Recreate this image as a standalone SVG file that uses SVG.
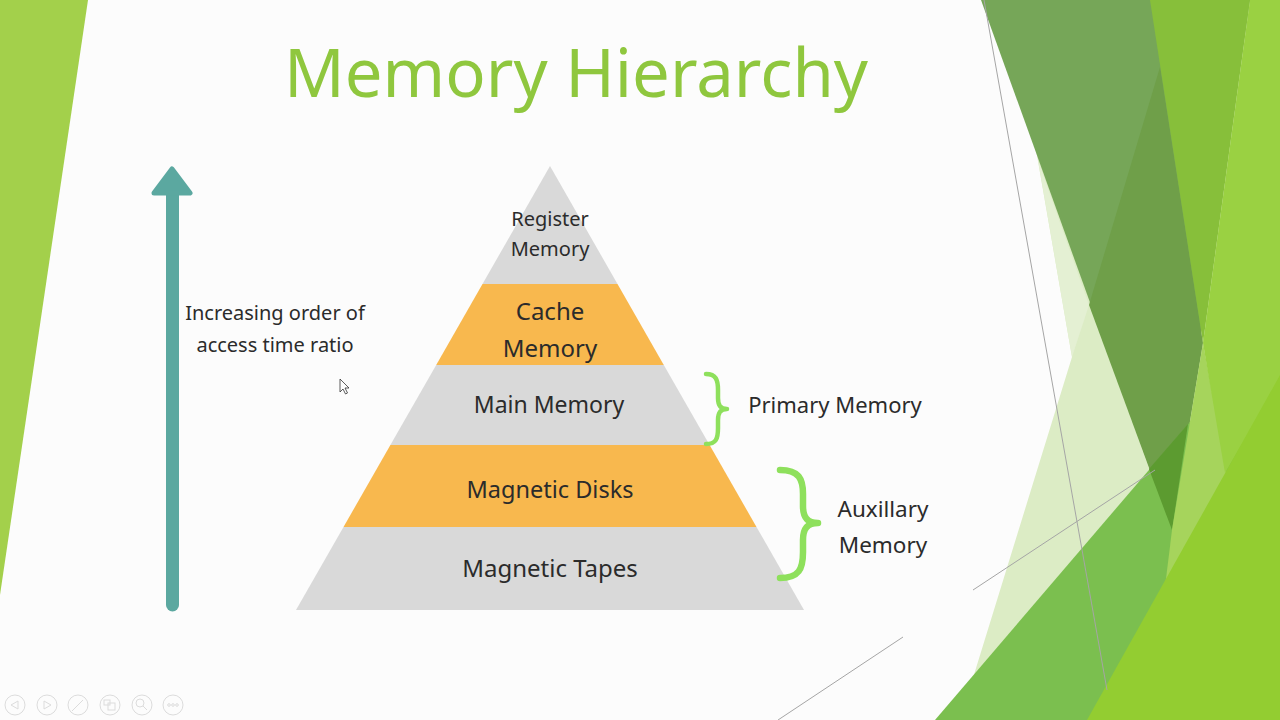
<svg xmlns="http://www.w3.org/2000/svg" width="1280" height="720" viewBox="0 0 1280 720">
  <style>
    .lbl { font-family: "Noto Sans", "DejaVu Sans", sans-serif; fill: #2b2b2b; text-anchor: middle; }
    .gray { fill: #d9d9d9; }
    .orange { fill: #f8b84e; }
    .brace { fill: none; stroke: #8ee05c; stroke-linecap: round; stroke-linejoin: round; }
    .thin { stroke: #a5a5a5; stroke-width: 1; fill: none; }
    .ctl { fill: none; stroke: #dcdcdc; stroke-width: 1; }
  </style>
  <rect width="1280" height="720" fill="#fcfcfc"/>

  <!-- background decoration -->
  <g id="decor-left">
    <polygon points="0,0 88,0 0,595" fill="#a3d04b"/>
  </g>
  <g id="decor-right">
    <polygon points="1150,0 1280,0 1280,720 1087,720" fill="#97ce3b"/>
    <polygon points="1010,0 1072,357 960,720 1280,720 1280,0" fill="#dcecc5"/>
    <polygon points="1038,160 1089,305 1072,357" fill="#e4f0d3"/>
    <polygon points="981,0 1250,0 1172,530" fill="#76a658"/>
    <polygon points="1160,67 1089,305 1172,530 1203,343" fill="#6f9f49"/>
    <polygon points="1150,0 1250,0 1203,343" fill="#87bf3a"/>
    <polygon points="935,720 1190,422 1280,317 1280,720" fill="#7bbf4f"/>
    <polygon points="1149,469 1188,424 1172,530" fill="#5c9b30"/>
    <polygon points="1203,343 1228,480 1165,587 1172,530" fill="#a6d45c"/>
    <polygon points="1250,0 1280,0 1280,380 1225,473 1203,343" fill="#9ad142"/>
    <polygon points="1087,720 1280,375 1280,720" fill="#93cd31"/>
    <line class="thin" x1="984" y1="0" x2="1107" y2="690"/>
    <line class="thin" x1="973" y1="590" x2="1155" y2="470"/>
    <line class="thin" x1="778" y1="720" x2="903" y2="637"/>
  </g>

  <g id="title">
    <text x="576" y="97" font-family="'Noto Sans', 'DejaVu Sans', sans-serif" font-size="68" fill="#8fc73e" text-anchor="middle" textLength="584" lengthAdjust="spacingAndGlyphs">Memory Hierarchy</text>
  </g>

  <g id="access-label">
    <text class="lbl" x="275" y="320" font-size="20">Increasing order of</text>
    <text class="lbl" x="275" y="352" font-size="20">access time ratio</text>
  </g>

  <g id="register-memory">
    <polygon class="gray" points="550,166 617.5,284 482.5,284"/>
    <text class="lbl" x="550" y="226" font-size="20">Register</text>
    <text class="lbl" x="550" y="256" font-size="20">Memory</text>
  </g>
  <g id="cache-memory">
    <polygon class="orange" points="482.5,284 617.5,284 663.8,365 436.2,365"/>
    <text class="lbl" x="550" y="320" font-size="24">Cache</text>
    <text class="lbl" x="550" y="357" font-size="24">Memory</text>
  </g>
  <g id="main-memory">
    <polygon class="gray" points="436.2,365 663.8,365 709.6,445 390.4,445"/>
    <text class="lbl" x="549" y="413" font-size="23">Main Memory</text>
  </g>
  <g id="magnetic-disks">
    <polygon class="orange" points="390.4,445 709.6,445 756.5,527 343.5,527"/>
    <text class="lbl" x="550" y="498" font-size="23.5">Magnetic Disks</text>
  </g>
  <g id="magnetic-tapes">
    <polygon class="gray" points="343.5,527 756.5,527 804,610 296,610"/>
    <text class="lbl" x="550" y="577" font-size="24">Magnetic Tapes</text>
  </g>

  <g id="primary-memory">
    <text class="lbl" x="835" y="413" font-size="22">Primary Memory</text>
  </g>
  <g id="auxillary-memory">
    <text class="lbl" x="883" y="517" font-size="22.5">Auxillary</text>
    <text class="lbl" x="883" y="553" font-size="22.5">Memory</text>
  </g>

  <g id="connectors">
    <line x1="172.5" y1="192" x2="172.5" y2="605" stroke="#5ba8a0" stroke-width="13" stroke-linecap="round"/>
    <polygon points="172,169 190,193 154,193" fill="#5ba8a0" stroke="#5ba8a0" stroke-width="5" stroke-linejoin="round"/>
    <path class="brace" stroke-width="4.5" d="M706,374 C716,374 718,380 718,390 L718,398 C718,405 720,409 727,409 C720,409 718,413 718,420 L718,428 C718,439 716,444 706,444"/>
    <path class="brace" stroke-width="6.5" d="M780,470 C799,470 803,479 803,494 L803,506 C803,517 807,523 818,523 C807,523 803,529 803,540 L803,552 C803,569 799,578 780,578"/>
  </g>

  <g id="cursor">
    <polygon points="340,379 340,392 343,389 345.5,394 347.5,393 345,388 349,388" fill="#ffffff" stroke="#333333" stroke-width="0.8" stroke-linejoin="round"/>
  </g>

  <g id="slide-controls">
    <circle class="ctl" cx="15" cy="705" r="10"/>
    <polygon class="ctl" points="11,705 18,701 18,709"/>
    <circle class="ctl" cx="47" cy="705" r="10"/>
    <polygon class="ctl" points="51,705 44,701 44,709"/>
    <circle class="ctl" cx="78" cy="705" r="10"/>
    <line class="ctl" x1="72" y1="711" x2="83" y2="700"/>
    <circle class="ctl" cx="110" cy="705" r="10"/>
    <rect class="ctl" x="104" y="700" width="6" height="5"/>
    <rect class="ctl" x="108" y="703" width="7" height="7"/>
    <circle class="ctl" cx="142" cy="705" r="10"/>
    <circle class="ctl" cx="140" cy="703" r="4"/>
    <line class="ctl" x1="143" y1="706" x2="147" y2="710"/>
    <circle class="ctl" cx="173" cy="705" r="10"/>
    <circle class="ctl" cx="169" cy="705" r="1.3"/>
    <circle class="ctl" cx="173" cy="705" r="1.3"/>
    <circle class="ctl" cx="177" cy="705" r="1.3"/>
  </g>
</svg>
